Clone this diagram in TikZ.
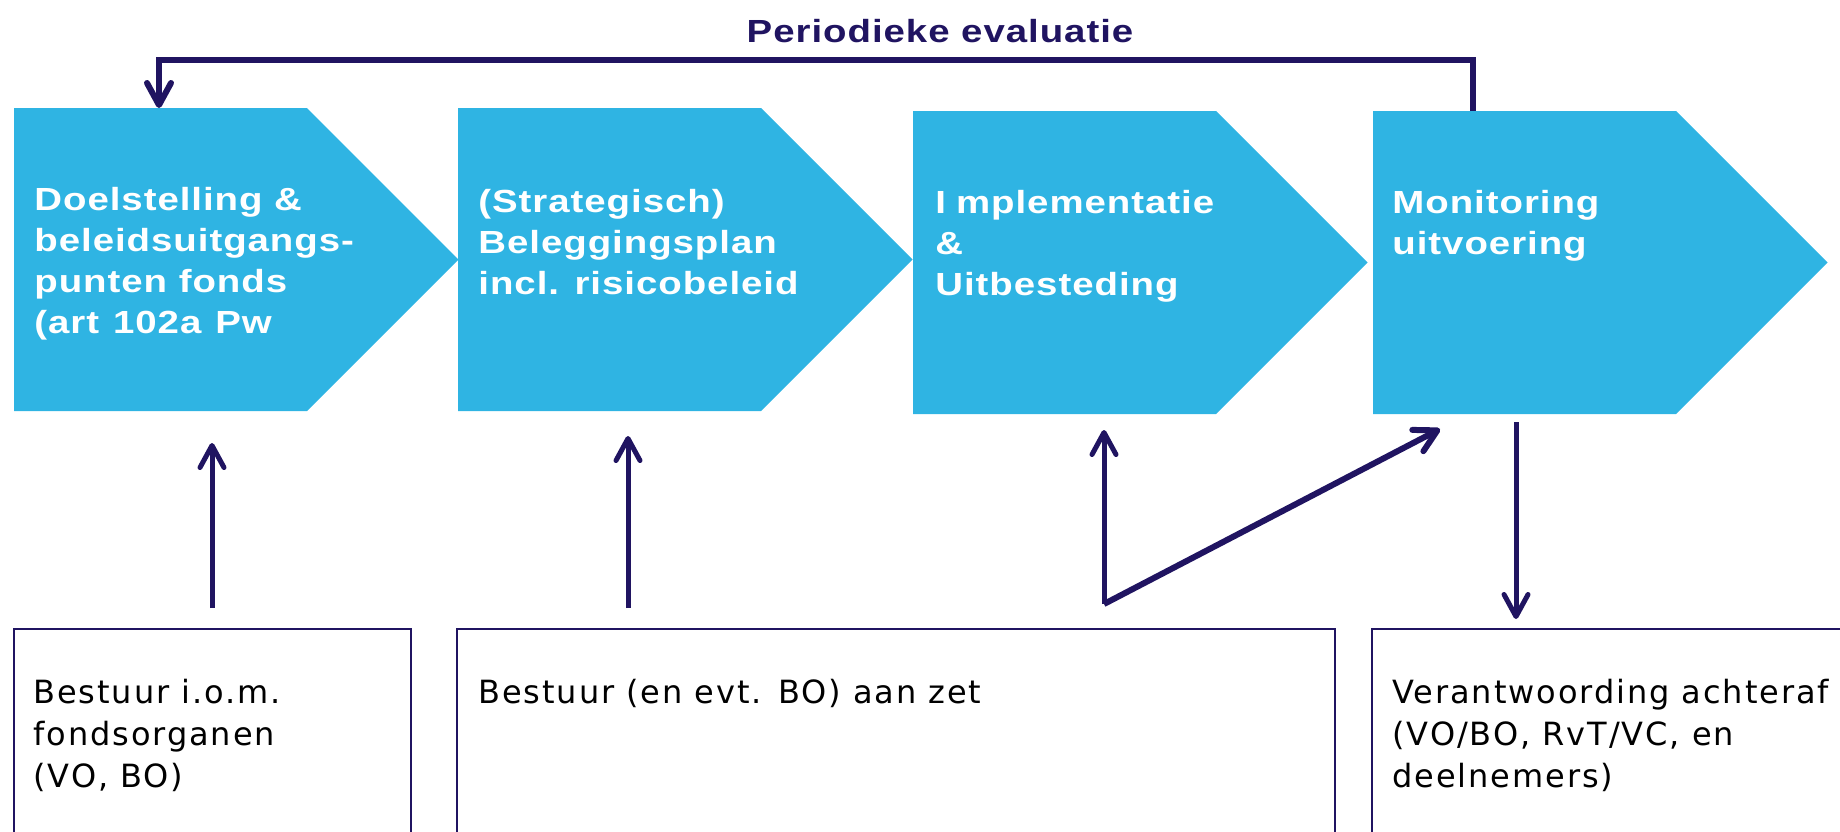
\documentclass[tikz,border=0pt]{standalone}
\usepackage{fontspec}
\setmainfont{Liberation Sans}
\newfontfamily\stepfont{Liberation Sans}[FakeStretch=1.2,LetterSpace=3]
\newfontfamily\actorfont{DejaVu Sans}[LetterSpace=6]
\usepackage{tikz}
\usetikzlibrary{arrows.meta,calc,positioning}
\definecolor{navy}{RGB}{32,20,97}
\definecolor{stepblue}{RGB}{47,180,227}
\tikzset{%
	stepbox/.style   = {fill=stepblue}, % Chevron
	steptext/.style  = {anchor=north west, inner sep=0pt, align=left, text=white, font=\stepfont\bfseries\fontsize{16}{20.5}\selectfont},
	title/.style     = {anchor=base, inner sep=0pt, text=navy, font=\stepfont\bfseries\fontsize{16}{20}\selectfont},
	actor/.style     = {draw=navy, line width=1pt, fill=white}, % Who acts
	actortext/.style = {anchor=north west, inner sep=0pt, align=left, text=black, font=\actorfont\fontsize{16}{21}\selectfont},
	flow/.style      = {draw=navy, line width=2.5pt, -{Straight Barb[length=11pt,width=12pt,round]}},
	waypoint/.style  = {coordinate},
}
% x left, y top, x end of rectangle, y bottom
\newcommand{\chevron}[4]{\fill[stepbox] (#1,#2) -- (#3,#2) -- ({#3+(#4-#2)/2},{(#2+#4)/2}) -- (#3,#4) -- (#1,#4) -- cycle;}

\begin{document}
\begin{tikzpicture}[x=0.5pt,y=-0.5pt]
	\useasboundingbox (0,0) rectangle (1840,831);
	\chevron{14}{108}{307}{411}
	\chevron{458}{108}{761}{411}
	\chevron{913}{111}{1216}{414}
	\chevron{1373}{111}{1676}{414}
	\node[steptext] (doel) at (34,181.3) {\strut Doelstelling \&\\beleidsuitgangs-\\punten fonds\\(art\hspace{7pt}102a\hspace{7pt}Pw};
	\node[steptext] (plan) at (478,183) {\strut (Strategisch)\\Beleggingsplan\\incl. risicobeleid};
	\node[steptext] (impl) at (935,184.3) {\strut I\kern5pt mplementatie\\\&\\Uitbesteding};
	\node[steptext] (moni) at (1392,184.3) {\strut Monitoring\\uitvoering};
	\node[title] (eval) at (940,42) {Periodieke evaluatie};

	\draw[actor] (14,629) rectangle (411,850);
	\draw[actor] (457,629) rectangle (1335,850);
	\draw[actor] (1372,629) rectangle (1860,850);
	\node[actortext] (bestuur) at (33,673.6) {\strut Bestuur i.o.m.\\fondsorganen\\(VO, BO)};
	\node[actortext] (aanzet) at (478,673.6) {\strut Bestuur (en evt. BO) aan zet};
	\node[actortext] (verantw) at (1392,673.6) {\strut Verantwoording achteraf\\(VO/BO, RvT/VC, en\\deelnemers)};

	\node[waypoint] (fbfrom) at (1473,111) {};
	\node[waypoint] (fbturn) at (1473,60) {};
	\node[waypoint] (fbto) at (159,108) {};
	\node[waypoint] (b1) at (212,608) {};
	\node[waypoint] (d1) at (212,443) {};
	\node[waypoint] (b2) at (628,608) {};
	\node[waypoint] (d2) at (628,436) {};
	\node[waypoint] (vtx) at (1104,604) {};
	\node[waypoint] (d3) at (1104,430) {};
	\node[waypoint] (d4) at (1440,429) {};
	\node[waypoint] (m4) at (1516,422) {};
	\node[waypoint] (b4) at (1516,619) {};
	\draw[flow, line width=3pt] (fbfrom) -- (fbturn) -| (fbto);
	\draw[flow] (b1) -- (d1);
	\draw[flow] (b2) -- (d2);
	\draw[flow] (vtx) -- (d3);
	\draw[flow, line width=3pt] (vtx) -- (d4);
	\draw[flow] (m4) -- (b4);
\end{tikzpicture}
\end{document}
